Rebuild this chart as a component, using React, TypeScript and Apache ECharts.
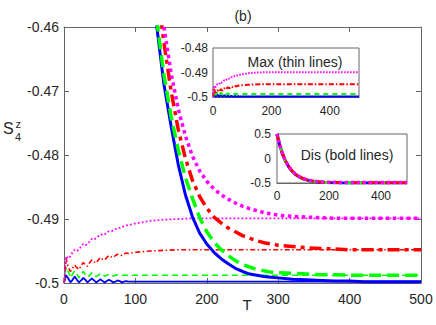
import React, { useEffect, useRef } from "react";
import * as echarts from "echarts";

// ---- Data ----
// Bold lines ("Dis"): time grid and values
const boldT = [0,10,20,30,40,50,60,70,80,90,100,110,120,130,140,150,160,170,180,190,200,210,220,230,240,250,260,270,280,290,300,320,340,360,380,400,420,440,460,480,500];
const disBlue = [0.5,0.28,0.11,-0.022,-0.126,-0.206,-0.27,-0.32,-0.36,-0.39,-0.413,-0.431,-0.4465,-0.46,-0.469,-0.4755,-0.4815,-0.4862,-0.4897,-0.4922,-0.4939,-0.4952,-0.4962,-0.497,-0.4977,-0.4982,-0.4986,-0.4988,-0.499,-0.4991,-0.4992,-0.4994,-0.4995,-0.4996,-0.4997,-0.4997,-0.4998,-0.4998,-0.4998,-0.4998,-0.4998];
const disGreen = [0.5,0.281,0.111,-0.021,-0.125,-0.205,-0.269,-0.319,-0.359,-0.389,-0.412,-0.43,-0.4455,-0.459,-0.4675,-0.474,-0.4792,-0.4835,-0.4868,-0.4898,-0.492,-0.4936,-0.4948,-0.4957,-0.4965,-0.4971,-0.4975,-0.4979,-0.4981,-0.4983,-0.4984,-0.4985,-0.4986,-0.4987,-0.4987,-0.4988,-0.4988,-0.4988,-0.4988,-0.4988,-0.4988];
const disRed = [0.5,0.283,0.114,-0.018,-0.121,-0.201,-0.265,-0.315,-0.355,-0.385,-0.408,-0.426,-0.4415,-0.4535,-0.4625,-0.47,-0.476,-0.4805,-0.484,-0.4865,-0.4883,-0.4897,-0.4906,-0.4914,-0.492,-0.4926,-0.493,-0.4934,-0.4937,-0.4939,-0.4941,-0.4943,-0.4945,-0.4946,-0.4947,-0.4948,-0.4948,-0.4948,-0.4948,-0.4948,-0.4948];
const disMagenta = [0.5,0.285,0.117,-0.015,-0.118,-0.198,-0.262,-0.312,-0.352,-0.382,-0.405,-0.423,-0.4385,-0.4505,-0.46,-0.4672,-0.4728,-0.477,-0.4802,-0.4825,-0.4841,-0.4853,-0.4862,-0.4869,-0.4875,-0.488,-0.4884,-0.4887,-0.489,-0.4892,-0.4894,-0.4896,-0.4897,-0.4898,-0.4899,-0.4899,-0.4899,-0.4899,-0.4899,-0.4899,-0.4899];

// Thin lines ("Max")
const thinT = [0,3,6,9,12,15,18,21,24,27,30,33,36,39,42,45,48,51,54,57,60,63,66,69,72,75,78,81,84,87,90,100,120,140,160,180,200,220,240,260,280,300,320,340,360,380,400,420,440,460,480,500];
const maxBlue = [-0.5,-0.4988,-0.4993,-0.4999,-0.4995,-0.499,-0.4995,-0.4999,-0.4996,-0.4992,-0.4995,-0.4999,-0.4996,-0.4993,-0.4996,-0.4999,-0.4997,-0.4994,-0.4997,-0.4999,-0.4997,-0.4995,-0.4997,-0.4999,-0.4998,-0.4996,-0.4997,-0.4999,-0.4998,-0.4997,-0.4998,-0.4998,-0.4998,-0.4998,-0.4998,-0.4998,-0.4998,-0.4998,-0.4998,-0.4998,-0.4998,-0.4998,-0.4998,-0.4998,-0.4998,-0.4998,-0.4998,-0.4998,-0.4998,-0.4998,-0.4998,-0.4998];
const maxGreen = [-0.5,-0.4975,-0.4982,-0.4992,-0.4986,-0.4981,-0.4986,-0.4992,-0.4987,-0.4982,-0.4987,-0.4991,-0.4988,-0.4984,-0.4987,-0.499,-0.4988,-0.4985,-0.4987,-0.4989,-0.4988,-0.4986,-0.4987,-0.4989,-0.4988,-0.4987,-0.4988,-0.4988,-0.4988,-0.4988,-0.4988,-0.4988,-0.4988,-0.4988,-0.4988,-0.4988,-0.4988,-0.4988,-0.4988,-0.4988,-0.4988,-0.4988,-0.4988,-0.4988,-0.4988,-0.4988,-0.4988,-0.4988,-0.4988,-0.4988,-0.4988,-0.4988];
const maxRed = [-0.5,-0.4962,-0.4975,-0.4982,-0.4977,-0.4972,-0.4976,-0.4979,-0.4973,-0.4968,-0.4972,-0.4974,-0.4968,-0.4964,-0.4967,-0.4969,-0.4964,-0.496,-0.4963,-0.4964,-0.496,-0.4957,-0.4959,-0.496,-0.4957,-0.4955,-0.4956,-0.4957,-0.4955,-0.4953,-0.4954,-0.4952,-0.495,-0.4949,-0.4948,-0.4948,-0.4948,-0.4948,-0.4948,-0.4948,-0.4948,-0.4948,-0.4948,-0.4948,-0.4948,-0.4948,-0.4948,-0.4948,-0.4948,-0.4948,-0.4948,-0.4948];
const maxMagenta = [-0.5,-0.4958,-0.4962,-0.4958,-0.4952,-0.4948,-0.495,-0.4948,-0.4943,-0.4939,-0.4941,-0.4939,-0.4935,-0.4931,-0.4932,-0.493,-0.4927,-0.4924,-0.4925,-0.4924,-0.4921,-0.4919,-0.4919,-0.4918,-0.4916,-0.4914,-0.4914,-0.4913,-0.4911,-0.491,-0.491,-0.4907,-0.4903,-0.4901,-0.49,-0.4899,-0.4899,-0.4899,-0.4899,-0.4899,-0.4899,-0.4899,-0.4899,-0.4899,-0.4899,-0.4899,-0.4899,-0.4899,-0.4899,-0.4899,-0.4899,-0.4899];

// Axis ticks
const mainXTicks = { min: 0, max: 500, interval: 100 };
const mainYTicks = { min: -0.5, max: -0.46, interval: 0.01 };
const inset1YTicks = { min: -0.5, max: -0.48, interval: 0.01 };
const inset2YTicks = { min: -0.5, max: 0.5, interval: 0.5 };
const insetXTicks = { min: 0, max: 500, interval: 200 };

const FONT = '"Liberation Sans", Arial, Helvetica, sans-serif';
const AXIS = "#666666";
const TEXT = "#262626";

const fmt = (v: number) => String(+Number(v).toFixed(2));

function xAx(grid: number, t: any, opts: any = {}) {
  return {
    type: "value",
    gridIndex: grid,
    min: t.min,
    max: t.max,
    interval: t.interval,
    position: opts.position || "bottom",
    axisLine: { show: true, onZero: false, lineStyle: { color: AXIS, width: 1 } },
    axisTick: { show: true, inside: true, length: opts.tick ?? 5, lineStyle: { color: AXIS } },
    axisLabel: {
      show: opts.label !== false,
      fontSize: opts.fs ?? 14,
      color: TEXT,
      fontFamily: FONT,
      margin: opts.margin ?? 9,
      showMaxLabel: opts.showMax ?? true,
      formatter: fmt,
    },
    splitLine: { show: false },
  };
}
function yAx(grid: number, t: any, opts: any = {}) {
  return {
    type: "value",
    gridIndex: grid,
    min: t.min,
    max: t.max,
    interval: t.interval,
    position: opts.position || "left",
    axisLine: { show: true, onZero: false, lineStyle: { color: AXIS, width: 1 } },
    axisTick: { show: true, inside: true, length: opts.tick ?? 5, lineStyle: { color: AXIS } },
    axisLabel: {
      show: opts.label !== false,
      fontSize: opts.fs ?? 14,
      color: TEXT,
      fontFamily: FONT,
      margin: opts.margin ?? 5,
      formatter: fmt,
    },
    splitLine: { show: false },
  };
}

function line(T: number[], V: number[], xi: number, yi: number, color: string, width: number, type: any, z: number) {
  return {
    type: "line",
    xAxisIndex: xi,
    yAxisIndex: yi,
    data: T.map((t, i) => [t, V[i]]),
    showSymbol: false,
    symbol: "none",
    clip: true,
    z,
    lineStyle: { color, width, type, cap: "butt" },
  };
}

export default function App() {
  const ref = useRef<HTMLDivElement>(null);
  useEffect(() => {
    if (!ref.current) return;
    const chart = echarts.init(ref.current, null, { renderer: "svg" });
    const option: any = {
      animation: false,
      backgroundColor: "#ffffff",
      grid: [
        { left: 64, top: 27, width: 357, height: 256, containLabel: false },
        { left: 213, top: 48, width: 146, height: 49, show: true, borderColor: AXIS, borderWidth: 1, backgroundColor: "#ffffff", z: 5 },
        { left: 277, top: 134, width: 130, height: 49, show: true, borderColor: AXIS, borderWidth: 1, backgroundColor: "#ffffff", z: 5 },
      ],
      xAxis: [
        xAx(0, mainXTicks),
        xAx(0, mainXTicks, { position: "top", label: false }),
        xAx(1, insetXTicks, { fs: 12, margin: 8, tick: 3, showMax: false }),
        xAx(2, insetXTicks, { fs: 12, margin: 7, tick: 3, showMax: false }),
      ],
      yAxis: [
        yAx(0, mainYTicks),
        yAx(0, mainYTicks, { position: "right", label: false }),
        yAx(1, inset1YTicks, { fs: 12, margin: 5, tick: 3 }),
        yAx(2, inset2YTicks, { fs: 12, margin: 6, tick: 3 }),
      ],
      series: [
        // main: thin (Max)
        line(thinT, maxBlue, 0, 0, "#0000ff", 1.8, "solid", 2),
        line(thinT, maxGreen, 0, 0, "#00ff00", 1.6, [6, 4], 2),
        line(thinT, maxRed, 0, 0, "#ff0000", 1.6, [5, 2.5, 1.5, 2.5], 2),
        line(thinT, maxMagenta, 0, 0, "#ff00ff", 1.8, [1.8, 2.2], 2),
        // main: bold (Dis)
        line(boldT, disBlue, 0, 0, "#0000ff", 3, "solid", 3),
        line(boldT, disGreen, 0, 0, "#00ff00", 3.5, [12, 6], 3),
        line(boldT, disRed, 0, 0, "#ff0000", 3.5, [12, 5, 4, 5], 3),
        line(boldT, disMagenta, 0, 0, "#ff00ff", 3.5, [3.5, 3.5], 3),
        // inset 1: thin
        line(thinT, maxBlue, 2, 2, "#0000ff", 2, "solid", 6),
        line(thinT, maxGreen, 2, 2, "#00ff00", 2, [5, 4], 6),
        line(thinT, maxRed, 2, 2, "#ff0000", 2, [5, 2, 1.5, 2], 6),
        line(thinT, maxMagenta, 2, 2, "#ff00ff", 2, [1.5, 1.5], 6),
        // inset 2: bold
        line(boldT, disBlue, 3, 3, "#0000ff", 3, "solid", 6),
        line(boldT, disGreen, 3, 3, "#00ff00", 3, [8, 4], 6),
        line(boldT, disRed, 3, 3, "#ff0000", 3, [8, 3, 3, 3], 6),
        line(boldT, disMagenta, 3, 3, "#ff00ff", 3.5, [3, 3], 6),
      ],
      graphic: [
        { type: "text", x: 243, y: 15.5, z: 10, style: { text: "(b)", fontSize: 14, fontFamily: FONT, fill: TEXT, align: "center", verticalAlign: "middle" } },
        { type: "text", x: 247, y: 304, z: 10, style: { text: "T", fontSize: 15, fontFamily: FONT, fill: TEXT, align: "center", verticalAlign: "middle" } },
        { type: "text", x: 3, y: 128, z: 10, style: { text: "S", fontSize: 16, fontFamily: FONT, fill: TEXT, align: "left", verticalAlign: "middle" } },
        { type: "text", x: 15.5, y: 124, z: 10, style: { text: "z", fontSize: 11, fontFamily: FONT, fill: TEXT, align: "left", verticalAlign: "middle" } },
        { type: "text", x: 15, y: 137, z: 10, style: { text: "4", fontSize: 11, fontFamily: FONT, fill: TEXT, align: "left", verticalAlign: "middle" } },
        { type: "text", x: 295, y: 62, z: 10, style: { text: "Max (thin lines)", fontSize: 14, fontFamily: FONT, fill: TEXT, align: "center", verticalAlign: "middle" } },
        { type: "text", x: 347, y: 155, z: 10, style: { text: "Dis (bold lines)", fontSize: 14, fontFamily: FONT, fill: TEXT, align: "center", verticalAlign: "middle" } },
      ],
    };
    chart.setOption(option);
    return () => chart.dispose();
  }, []);
  return <div ref={ref} style={{ position: "absolute", left: 0, top: 0, width: 436, height: 325 }} />;
}
